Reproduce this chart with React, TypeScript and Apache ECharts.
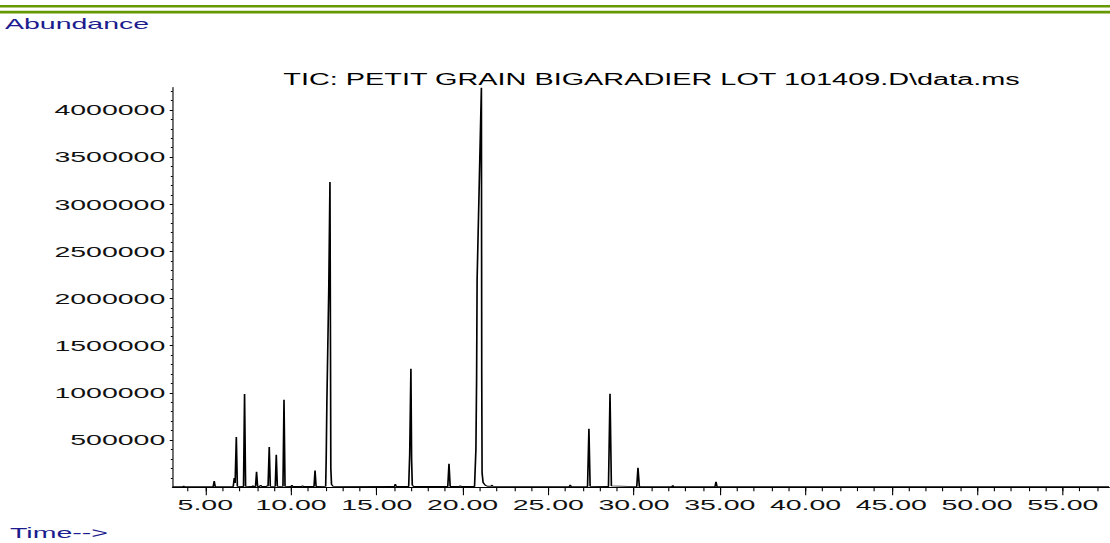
import React, { useEffect, useRef } from "react";
import * as echarts from "echarts";

// Chromatogram trace: retention time (min) and abundance
const retentionTime = [
  3.1, 3.7, 3.74, 3.78, 4.0, 4.03, 4.07, 5.46, 5.52, 5.58,
  6.63, 6.69, 6.74, 6.81, 6.87, 7.23, 7.29, 7.35, 7.74, 7.78,
  7.82, 7.93, 7.99, 8.05, 8.17, 8.23, 8.29, 8.56, 8.61, 8.66,
  8.73, 8.79, 9.08, 9.14, 9.2, 9.53, 9.59, 9.65, 10.0, 10.05,
  10.1, 10.62, 10.67, 10.72, 11.34, 11.4, 11.46, 12.02, 12.05, 12.09,
  12.2, 12.27, 12.3, 12.32, 12.36, 12.45, 16.03, 16.08, 16.13, 16.86,
  16.92, 16.99, 17.03, 17.07, 17.15, 19.14, 19.21, 19.28, 19.82, 19.87,
  19.92, 20.7, 20.78, 20.82, 20.85, 21.1, 21.12, 21.14, 21.2, 21.32,
  21.45, 21.67, 21.72, 21.77, 25.66, 25.7, 25.74, 26.23, 26.28, 26.33,
  26.67, 26.71, 26.75, 27.29, 27.37, 27.44, 28.51, 28.6, 28.68, 30.16,
  30.23, 30.31, 32.21, 32.26, 32.31, 34.72, 34.78, 34.84, 36.46, 36.5,
  36.54, 38.96, 39.0, 39.04, 57.7,
];
const abundance = [
  5000, 5000, 12000, 5000, 5000, 11000, 5000, 5000, 64000, 5000,
  7000, 97000, 45000, 532000, 9000, 8000, 987000, 9000, 7000, 16000,
  7000, 7000, 163000, 8000, 8000, 22000, 8000, 8000, 16000, 9000,
  425000, 9000, 9000, 344000, 9000, 9000, 927000, 9000, 7000, 21000,
  7000, 7000, 15000, 7000, 7000, 178000, 8000, 9000, 300000, 900000,
  2100000, 3236000, 1500000, 200000, 30000, 9000, 7000, 34000, 7000, 8000,
  350000, 1255000, 300000, 22000, 8000, 7000, 248000, 7000, 7000, 16000,
  7000, 8000, 400000, 1140000, 2200000, 4235000, 1200000, 150000, 50000, 22000,
  10000, 10000, 23000, 9000, 6000, 11000, 6000, 6000, 26000, 6000,
  6000, 11000, 6000, 7000, 620000, 10000, 7000, 990000, 14000, 6000,
  206000, 6000, 5000, 18000, 5000, 5000, 57000, 5000, 5000, 10000,
  5000, 5000, 9000, 5000, 5000,
];

const xLabelValues = [5, 10, 15, 20, 25, 30, 35, 40, 45, 50, 55];
const xMinorTickValues = [
  4, 5, 6, 7, 8, 9, 10, 11, 12, 13, 14, 15, 16, 17, 18, 19, 20, 21, 22, 23,
  24, 25, 26, 27, 28, 29, 30, 31, 32, 33, 34, 35, 36, 37, 38, 39, 40, 41, 42,
  43, 44, 45, 46, 47, 48, 49, 50, 51, 52, 53, 54, 55, 56, 57,
];
const yLabelValues = [500000, 1000000, 1500000, 2000000, 2500000, 3000000, 3500000, 4000000];
const yMinorTickValues = [
  100000, 200000, 300000, 400000, 500000, 600000, 700000, 800000, 900000, 1000000,
  1100000, 1200000, 1300000, 1400000, 1500000, 1600000, 1700000, 1800000, 1900000, 2000000,
  2100000, 2200000, 2300000, 2400000, 2500000, 2600000, 2700000, 2800000, 2900000, 3000000,
  3100000, 3200000, 3300000, 3400000, 3500000, 3600000, 3700000, 3800000, 3900000, 4000000,
  4100000, 4200000,
];

const titleText = "TIC: PETIT GRAIN BIGARADIER LOT 101409.D\\data.ms";
const yAxisName = "Abundance";
const xAxisName = "Time-->";

const STRETCH = 1.85;
const W = 1110 / STRETCH;
const FONT = "'Liberation Sans', Arial, Helvetica, sans-serif";
const FS = 15.4;
const BLUE = "#1c1c8e";
const GREEN = "#669900";

export default function App() {
  const ref = useRef<HTMLDivElement>(null);
  useEffect(() => {
    if (!ref.current) return;
    const chart = echarts.init(ref.current, undefined, { renderer: "svg" });
    const data = retentionTime.map((t, i) => [t, abundance[i]]);
    const xMin = 3.1;
    const xMax = 57.7;
    const yMax = 4240000;
    chart.setOption({
      animation: false,
      backgroundColor: "#ffffff",
      grid: { left: 172.7 / STRETCH, right: 0.5, top: 87.3, bottom: 55.8, containLabel: false },
      graphic: [
        { type: "rect", left: 0, top: 5, shape: { x: 0, y: 0, width: W, height: 2.4 }, style: { fill: GREEN } },
        { type: "rect", left: 0, top: 10.8, shape: { x: 0, y: 0, width: W, height: 2.8 }, style: { fill: GREEN } },
        {
          type: "text", x: 5 / STRETCH, y: 24,
          style: { text: yAxisName, fill: BLUE, font: `${FS}px ${FONT}`, align: "left", verticalAlign: "middle" },
        },
        {
          type: "text", x: 10 / STRETCH, y: 533,
          style: { text: xAxisName, fill: BLUE, font: `${FS}px ${FONT}`, align: "left", verticalAlign: "middle" },
        },
        {
          type: "text", x: 651.5 / STRETCH, y: 80,
          style: { text: titleText, fill: "#000", font: `15.6px ${FONT}`, align: "center", verticalAlign: "middle" },
        },
      ],
      xAxis: [
        {
          type: "value", min: xMin, max: xMax, position: "bottom",
          splitLine: { show: false },
          axisLine: { show: true, onZero: false, lineStyle: { color: "#000", width: 1 } },
          axisTick: { show: true, inside: false, length: 4, customValues: xMinorTickValues, lineStyle: { color: "#000", width: 0.6 } },
          axisLabel: {
            show: true, customValues: xLabelValues, margin: 10, color: "#111",
            fontFamily: FONT, fontSize: FS,
            formatter: (v: number) => v.toFixed(2),
          },
        },
        {
          type: "value", min: xMin, max: xMax, position: "bottom",
          splitLine: { show: false },
          axisLine: { show: false, onZero: false },
          axisTick: { show: true, inside: false, length: 8, customValues: xLabelValues, lineStyle: { color: "#000", width: 0.6 } },
          axisLabel: { show: false },
        },
      ],
      yAxis: [
        {
          type: "value", min: 0, max: yMax, position: "left",
          splitLine: { show: false },
          axisLine: { show: true, onZero: false, lineStyle: { color: "#000", width: 0.6 } },
          axisTick: { show: true, inside: false, length: 1.6, customValues: yLabelValues, lineStyle: { color: "#000", width: 1 } },
          axisLabel: {
            show: true, customValues: yLabelValues, margin: 4, color: "#111",
            fontFamily: FONT, fontSize: FS,
            formatter: (v: number) => String(v),
          },
        },
        {
          type: "value", min: 0, max: yMax, position: "left",
          splitLine: { show: false },
          axisLine: { show: false, onZero: false },
          axisTick: { show: true, inside: false, length: 1, customValues: yMinorTickValues, lineStyle: { color: "#000", width: 1 } },
          axisLabel: { show: false },
        },
      ],
      series: [
        {
          type: "line",
          xAxisIndex: 0,
          yAxisIndex: 0,
          data,
          showSymbol: false,
          symbol: "none",
          lineStyle: { color: "#000", width: 0.9 },
          z: 5,
        },
      ],
    });
    return () => chart.dispose();
  }, []);
  return (
    <div style={{ position: "fixed", left: 0, top: 0, width: 1110, height: 543, overflow: "hidden", background: "#fff" }}>
      <div
        ref={ref}
        style={{ width: W, height: 543, transform: `scaleX(${STRETCH})`, transformOrigin: "0 0" }}
      />
    </div>
  );
}
